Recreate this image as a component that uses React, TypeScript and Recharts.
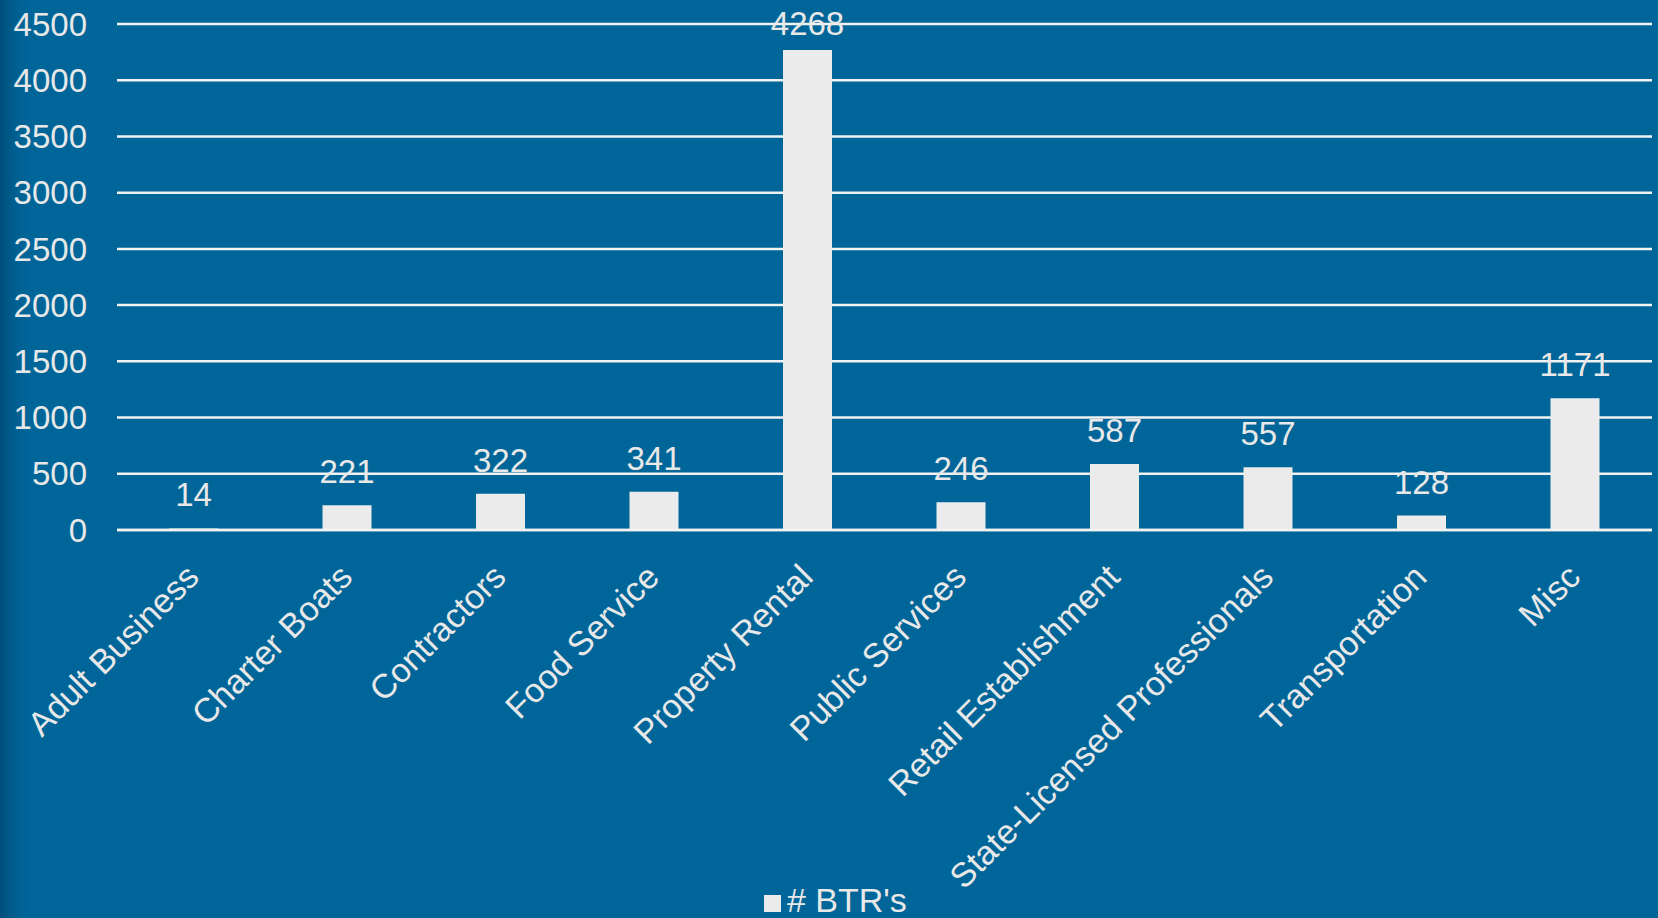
import React from 'react';
import { BarChart, Bar, XAxis, YAxis, CartesianGrid, LabelList, Legend } from 'recharts';

const categories = [
  'Adult Business',
  'Charter Boats',
  'Contractors',
  'Food Service',
  'Property Rental',
  'Public Services',
  'Retail Establishment',
  'State-Licensed Professionals',
  'Transportation',
  'Misc',
];
const btrValues = [14, 221, 322, 341, 4268, 246, 587, 557, 128, 1171];
const yTicks = [0, 500, 1000, 1500, 2000, 2500, 3000, 3500, 4000, 4500];
const seriesName = "# BTR's";

const data = categories.map((c, i) => ({ name: c, value: btrValues[i] }));

const FONT = 'Arial, "Liberation Sans", sans-serif';
const TEXT = '#e8e8e8';

const XTick = (props: any) => {
  const { x, payload } = props;
  return (
    <g transform={`translate(${x + 7},${579})`}>
      <text
        x={0}
        y={0}
        textAnchor="end"
        transform="rotate(-45)"
        fill={TEXT}
        fontSize={34}
        fontFamily={FONT}
      >
        {payload.value}
      </text>
    </g>
  );
};

const ValueLabel = (props: any) => {
  const { x, y, width, value } = props;
  const baseline = Math.max(y - 22, 35);
  return (
    <text
      x={x + width / 2}
      y={baseline}
      textAnchor="middle"
      fill={TEXT}
      fontSize={33}
      fontFamily={FONT}
    >
      {value}
    </text>
  );
};

export default function App() {
  return (
    <div
      style={{
        position: 'fixed',
        left: 0,
        top: 0,
        width: 1658,
        height: 918,
        background: 'linear-gradient(to right, #004f7a 0px, #005e8f 14px, #006599 28px, #006599 100%)',
        overflow: 'hidden',
      }}
    >
      <BarChart
        width={1658}
        height={918}
        data={data}
        margin={{ top: 24, right: 6, bottom: 0, left: 0 }}
      >
        <CartesianGrid horizontal vertical={false} stroke="#f2f2f2" strokeWidth={2.5} />
        <XAxis
          dataKey="name"
          height={388}
          axisLine={{ stroke: '#f2f2f2', strokeWidth: 2.5 }}
          tickLine={false}
          interval={0}
          tick={<XTick />}
        />
        <YAxis
          width={117}
          domain={[0, 4500]}
          ticks={yTicks}
          axisLine={false}
          tickLine={false}
          tickSize={0}
          tickMargin={30}
          tick={{ fill: TEXT, fontSize: 33, fontFamily: FONT }}
          interval={0}
        />
        <Legend
          layout="horizontal"
          verticalAlign="middle"
          align="center"
          iconType="square"
          iconSize={17}
          wrapperStyle={{ left: 764, top: 881, width: 'auto', fontFamily: FONT, fontSize: 34 }}
          formatter={(v: any) => <span style={{ color: TEXT, marginLeft: 2 }}>{v}</span>}
        />
        <Bar dataKey="value" name={seriesName} fill="#ebebeb" barSize={49} isAnimationActive={false}>
          <LabelList dataKey="value" content={<ValueLabel />} />
        </Bar>
      </BarChart>
    </div>
  );
}
